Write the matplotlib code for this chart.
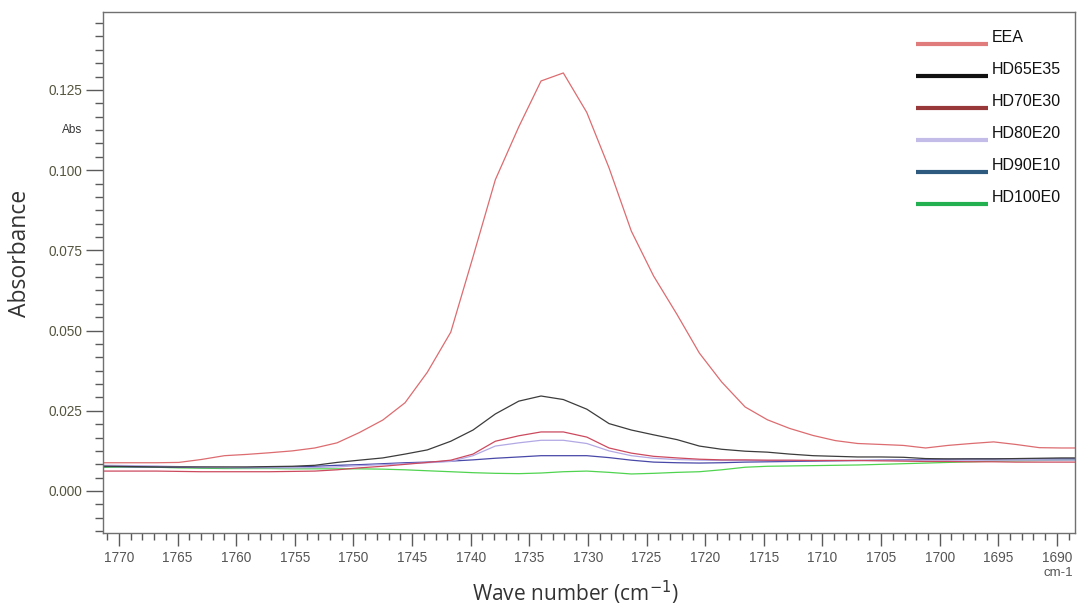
import matplotlib
matplotlib.use("Agg")
import matplotlib.pyplot as plt
from matplotlib.ticker import MultipleLocator, AutoMinorLocator, FormatStrFormatter

# FTIR carbonyl region, spectra sampled every ~1.93 cm-1
wavenumber = [1772.6, 1770.7, 1768.8, 1766.8, 1764.9, 1763.0, 1761.0, 1759.1, 1757.2,
              1755.2, 1753.3, 1751.4, 1749.5, 1747.5, 1745.6, 1743.7, 1741.7, 1739.8,
              1737.9, 1735.9, 1734.0, 1732.1, 1730.1, 1728.2, 1726.3, 1724.4, 1722.4,
              1720.5, 1718.6, 1716.6, 1714.7, 1712.8, 1710.8, 1708.9, 1707.0, 1705.0,
              1703.1, 1701.2, 1699.3, 1697.3, 1695.4, 1693.5, 1691.5, 1689.6, 1687.7]

eea = [0.0088, 0.0088, 0.0088, 0.0088, 0.0089, 0.0098, 0.0110, 0.0114, 0.0119,
       0.0125, 0.0134, 0.0150, 0.0182, 0.0221, 0.0275, 0.0370, 0.0495, 0.0730,
       0.0970, 0.1135, 0.1278, 0.1303, 0.1180, 0.1007, 0.0810, 0.0670, 0.0550,
       0.0430, 0.0340, 0.0262, 0.0222, 0.0195, 0.0173, 0.0157, 0.0148, 0.0145,
       0.0142, 0.0134, 0.0142, 0.0148, 0.0153, 0.0145, 0.0135, 0.0134, 0.0134]

hd65e35 = [0.0078, 0.0077, 0.0076, 0.0075, 0.0075, 0.0075, 0.0075, 0.0075, 0.0076,
           0.0077, 0.0080, 0.0089, 0.0096, 0.0103, 0.0115, 0.0128, 0.0155, 0.0190,
           0.0240, 0.0280, 0.0296, 0.0285, 0.0255, 0.0210, 0.0190, 0.0175, 0.0160,
           0.0140, 0.0130, 0.0124, 0.0121, 0.0115, 0.0110, 0.0108, 0.0106, 0.0106,
           0.0105, 0.0101, 0.0100, 0.0100, 0.0100, 0.0101, 0.0102, 0.0103, 0.0103]

hd70e30 = [0.0062, 0.0062, 0.0062, 0.0062, 0.0061, 0.0060, 0.0060, 0.0060, 0.0060,
           0.0061, 0.0062, 0.0066, 0.0072, 0.0077, 0.0083, 0.0089, 0.0096, 0.0115,
           0.0155, 0.0172, 0.0184, 0.0184, 0.0168, 0.0134, 0.0118, 0.0108, 0.0103,
           0.0099, 0.0097, 0.0097, 0.0096, 0.0096, 0.0095, 0.0095, 0.0095, 0.0094,
           0.0093, 0.0092, 0.0092, 0.0091, 0.0091, 0.0090, 0.0090, 0.0090, 0.0090]

hd80e20 = [0.0080, 0.0080, 0.0079, 0.0078, 0.0076, 0.0074, 0.0073, 0.0072, 0.0072,
           0.0072, 0.0073, 0.0075, 0.0079, 0.0082, 0.0085, 0.0088, 0.0092, 0.0110,
           0.0140, 0.0150, 0.0158, 0.0158, 0.0148, 0.0125, 0.0110, 0.0102, 0.0098,
           0.0096, 0.0095, 0.0095, 0.0095, 0.0095, 0.0095, 0.0095, 0.0095, 0.0095,
           0.0096, 0.0096, 0.0096, 0.0096, 0.0096, 0.0096, 0.0096, 0.0096, 0.0096]

hd90e10 = [0.0076, 0.0076, 0.0075, 0.0075, 0.0074, 0.0073, 0.0073, 0.0073, 0.0074,
           0.0075, 0.0077, 0.0080, 0.0082, 0.0085, 0.0088, 0.0090, 0.0093, 0.0097,
           0.0102, 0.0106, 0.0110, 0.0110, 0.0110, 0.0104, 0.0096, 0.0090, 0.0088,
           0.0087, 0.0088, 0.0090, 0.0091, 0.0092, 0.0093, 0.0094, 0.0095, 0.0096,
           0.0097, 0.0098, 0.0099, 0.0100, 0.0100, 0.0100, 0.0100, 0.0100, 0.0100]

hd100e0 = [0.0072, 0.0074, 0.0075, 0.0074, 0.0072, 0.0071, 0.0070, 0.0070, 0.0070,
           0.0069, 0.0069, 0.0069, 0.0069, 0.0068, 0.0066, 0.0063, 0.0060, 0.0057,
           0.0055, 0.0054, 0.0056, 0.0060, 0.0062, 0.0058, 0.0053, 0.0055, 0.0058,
           0.0060, 0.0066, 0.0074, 0.0077, 0.0078, 0.0079, 0.0080, 0.0081, 0.0083,
           0.0085, 0.0087, 0.0089, 0.0091, 0.0093, 0.0094, 0.0095, 0.0096, 0.0097]

labels = ["EEA", "HD65E35", "HD70E30", "HD80E20", "HD90E10", "HD100E0"]
series = [eea, hd65e35, hd70e30, hd80e20, hd90e10, hd100e0]

# trace colours and the (slightly different) legend key colours
line_colors = ["#dc6c70", "#3c3c3c", "#cc4a5e", "#b2a8e4", "#4848a8", "#50d450"]
key_colors = ["#e07c7c", "#111111", "#993838", "#c4bce8", "#2f5a80", "#22b050"]

plt.rcParams["font.family"] = ["Liberation Sans", "DejaVu Sans"]

fig = plt.figure(figsize=(10.8, 6.05), dpi=100)
ax = fig.add_axes([103 / 1080, 72 / 605, 972 / 1080, 521 / 605])

# draw back to front so the big EEA band sits on top
for ys, c in zip(series[::-1], line_colors[::-1]):
    ax.plot(wavenumber, ys, color=c, linewidth=0.9)

ax.set_xlim(1771.36, 1688.46)
ax.set_ylim(-0.0131, 0.1493)

ax.xaxis.set_major_locator(MultipleLocator(5))
ax.xaxis.set_minor_locator(MultipleLocator(1))
ax.yaxis.set_major_locator(MultipleLocator(0.025))
ax.yaxis.set_minor_locator(AutoMinorLocator(6))
ax.yaxis.set_major_formatter(FormatStrFormatter("%.3f"))

tick_col = "#5a5a5a"
ax.tick_params(axis="y", which="major", length=12, width=1, color=tick_col,
               labelsize=9.8, labelcolor="#55553f", pad=3)
ax.tick_params(axis="y", which="minor", length=6, width=1, color=tick_col)
ax.tick_params(axis="x", which="major", length=9, width=1, color=tick_col,
               labelsize=9.8, labelcolor="#555555", pad=4)
ax.tick_params(axis="x", which="minor", length=5, width=1, color=tick_col)
for sp in ax.spines.values():
    sp.set_color("#707070")
    sp.set_linewidth(1)

ax.set_xlabel("Wave number (cm$^{-1}$)", fontsize=15, family="Open Sans",
              color="#333333")
ax.set_ylabel("Absorbance", fontsize=16.5, family="Open Sans", color="#333333")
ax.xaxis.set_label_coords(0.486, -0.087)
ax.yaxis.set_label_coords(-0.073, 0.537)

ax.text(-0.021, 0.1125, "Abs", transform=ax.get_yaxis_transform(),
        ha="right", va="center", fontsize=8.5, color="#333333")
ax.text(0.998, -0.076, "cm-1", transform=ax.transAxes, ha="right", va="center",
        fontsize=9.5, color="#555555")

# hand-placed legend keys in the top right corner
def fx(px):
    return (px - 103) / 972


def fy(py):
    return (533 - py) / 521


for i, (lab, kc) in enumerate(zip(labels, key_colors)):
    ty = 38 + 32 * i
    ax.plot([fx(916), fx(988)], [fy(ty + 6), fy(ty + 6)], transform=ax.transAxes,
            color=kc, linewidth=3, solid_capstyle="butt", clip_on=False)
    ax.text(fx(992), fy(ty), lab, transform=ax.transAxes, ha="left", va="center",
            fontsize=11.5, color="#111111")

fig.savefig("out.png", dpi=100)
